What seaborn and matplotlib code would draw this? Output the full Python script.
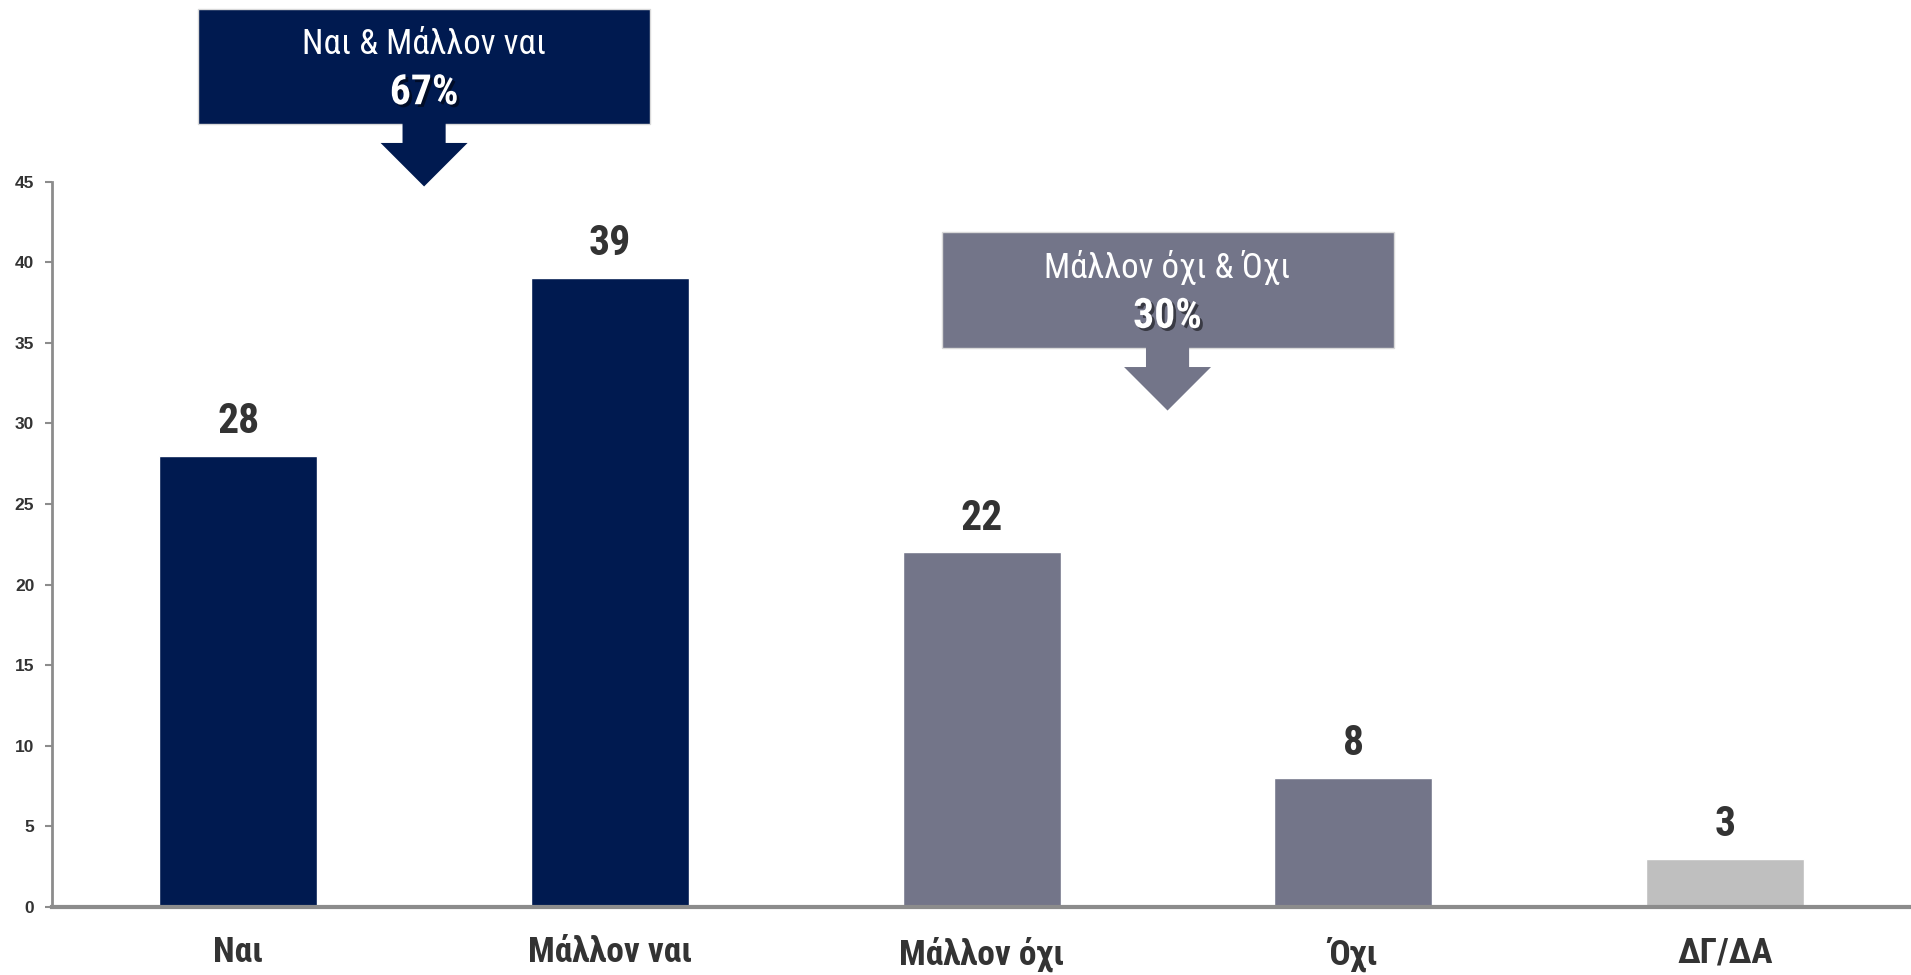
import pandas as pd
import matplotlib.pyplot as plt
import matplotlib.patheffects as pe
from matplotlib import font_manager
from matplotlib.ft2font import FT2Font
from matplotlib.patches import Rectangle, Polygon
from matplotlib.ticker import FixedLocator
import seaborn as sns

# Δεδομένα
categories = ["Ναι", "Μάλλον ναι", "Μάλλον όχι", "Όχι", "ΔΓ/ΔΑ"]
values = [28, 39, 22, 8, 3]
bar_colors = ["#001A50", "#001A50", "#737589", "#737589", "#BFBFBF"]

# ομαδοποιήσεις για τα πλαίσια
group_labels = ["Ναι & Μάλλον ναι", "Μάλλον όχι & Όχι"]
group_totals = ["67%", "30%"]
group_members = [[0, 1], [2, 3]]
group_colors = ["#001A50", "#737589"]

df = pd.DataFrame({"cat": categories, "val": values})


def pick_narrow():
    # στενή γραμματοσειρά με ελληνικά και έντονη έκδοση
    wanted = ["Liberation Sans Narrow", "Roboto Condensed", "Open Sans Condensed",
              "Fira Sans Condensed", "Archivo Narrow", "PT Sans Narrow",
              "IBM Plex Sans Condensed", "Noto Sans Condensed", "Sofia Sans Condensed",
              "Saira SemiCondensed"]
    fl = font_manager.fontManager.ttflist
    for name in wanted:
        fonts = [f for f in fl if f.name == name]
        if not fonts or not any(f.weight >= 600 for f in fonts):
            continue
        try:
            ft = FT2Font(fonts[0].fname)
            if all(ft.get_char_index(ord(c)) for c in "λάόΌΔΓ"):
                return name
        except Exception:
            pass
    return "DejaVu Sans"


sns.set_style("white")
narrow = [pick_narrow(), "DejaVu Sans"]
plt.rcParams["font.family"] = ["Liberation Sans", "DejaVu Sans"]

fig = plt.figure(figsize=(19.11, 9.75), dpi=100)
ax = fig.add_axes([0.0274, 0.0697, 0.9726, 0.744])

sns.barplot(data=df, x="cat", y="val", hue="cat", palette=dict(zip(categories, bar_colors)),
            width=0.425, legend=False, ax=ax, saturation=1)

for cont in ax.containers:
    ax.bar_label(cont, padding=10, fontsize=30, fontweight="bold", color="#333333", family=narrow)

ax.set_xlim(-0.5, 4.5)
ax.set_ylim(0, 45)
ax.set_yticks(range(0, 50, 5))
ax.set_xlabel("")
ax.set_ylabel("")

# ακμές και υποδιαιρέσεις
for s in ["top", "right"]:
    ax.spines[s].set_visible(False)
ax.spines["left"].set_color("#8c8c8c")
ax.spines["left"].set_linewidth(2)
ax.spines["bottom"].set_color("#8c8c8c")
ax.spines["bottom"].set_linewidth(3)

ax.xaxis.set_minor_locator(FixedLocator([i - 0.5 for i in range(len(categories) + 1)]))
ax.tick_params(axis="x", which="major", length=0, pad=21)
ax.tick_params(axis="x", which="minor", length=16, width=1.5, color="#8c8c8c")
ax.tick_params(axis="y", which="major", length=5, width=1.5, color="#8c8c8c", pad=8,
               labelsize=12.5, labelcolor="#333333", left=True)
for lab in ax.get_yticklabels():
    lab.set_fontweight("bold")
for lab in ax.get_xticklabels():
    lab.set_fontsize(25.5)
    lab.set_fontweight("bold")
    lab.set_color("#333333")
    lab.set_family(narrow)

# πλαίσια με βέλη
box_y = [(48.6, 55.7), (34.7, 41.9)]
arrow_y = [(47.4, 44.7), (33.5, 30.8)]
for lbl, tot, mem, col, (y0, y1), (ah, at) in zip(group_labels, group_totals, group_members,
                                                   group_colors, box_y, arrow_y):
    cx = sum(mem) / len(mem)
    ax.add_patch(Rectangle((cx - 0.608, y0), 1.216, y1 - y0, facecolor=col, edgecolor="#d9d9d9",
                           linewidth=1, clip_on=False, zorder=5))
    ax.add_patch(Polygon([(cx - 0.058, y0 + 0.05), (cx + 0.058, y0 + 0.05), (cx + 0.058, ah),
                          (cx + 0.117, ah), (cx, at), (cx - 0.117, ah), (cx - 0.058, ah)],
                         closed=True, facecolor=col, edgecolor="none", clip_on=False, zorder=5))
    ax.text(cx, y1 - (y1 - y0) * 0.31, lbl, ha="center", va="center", color="white",
            fontsize=25, family=narrow, zorder=6, clip_on=False)
    ax.text(cx, y0 + (y1 - y0) * 0.27, tot, ha="center", va="center", color="white",
            fontsize=30, fontweight="bold", family=narrow, zorder=6, clip_on=False,
            path_effects=[pe.withSimplePatchShadow(offset=(2, -2), shadow_rgbFace="black", alpha=0.5)])

fig.savefig("out.png", dpi=100)
